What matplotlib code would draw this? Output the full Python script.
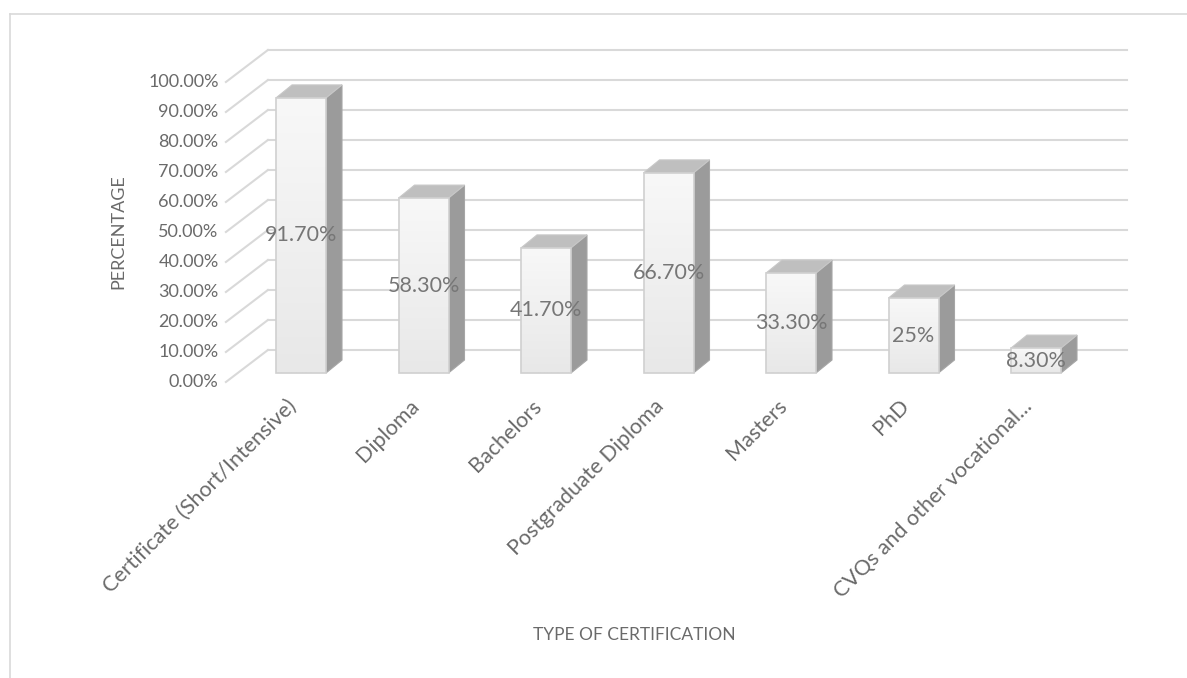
import matplotlib.pyplot as plt
from matplotlib.patches import Polygon, Rectangle
from matplotlib.colors import LinearSegmentedColormap
import numpy as np

plt.rcParams['font.family'] = ['Lato', 'DejaVu Sans']

categories = ['Certificate (Short/Intensive)', 'Diploma', 'Bachelors',
              'Postgraduate Diploma', 'Masters', 'PhD', 'CVQs and other vocational...']
values = [91.7, 58.3, 41.7, 66.7, 33.3, 25.0, 8.3]
value_labels = ['91.70%', '58.30%', '41.70%', '66.70%', '33.30%', '25%', '8.30%']
y_ticks = [0, 10, 20, 30, 40, 50, 60, 70, 80, 90, 100]
y_tick_labels = ['%.2f%%' % t for t in y_ticks]

# pixel scale of the bar plane: 122.5 px per category, 3 px per percent
W, H = 1187, 678
x0px, y0px, sx, sy = 301, 373, 122.5, 3.0

fig = plt.figure(figsize=(W / 100, H / 100), dpi=100)
ax = fig.add_axes([0, 0, 1, 1])
ax.axis('off')

grid_c = '#d9d9d9'
text_c = '#6a6a6a'

# depth offsets (data units) relative to the bar plane
front = (-12 / sx, -9 / sy)
back = (30 / sx, 23 / sy)
bar_d = (16 / sx, 13 / sy)
x_left, x_right = -0.515, 6.5

# walls: slanted left lines and back horizontal lines
for t in y_ticks:
    ax.plot([x_left + front[0], x_left + back[0]], [t + front[1], t + back[1]],
            color=grid_c, lw=1.5, zorder=1)
    ax.plot([x_left + back[0], x_right + back[0]], [t + back[1], t + back[1]],
            color=grid_c, lw=1.5, zorder=1)

# y tick labels on the front edge
for t, lab in zip(y_ticks, y_tick_labels):
    ax.text(x_left + front[0] - 0.06, t + front[1], lab, ha='right', va='center',
            fontsize=13, color=text_c)

# bars
w = 50 / sx
grad = np.linspace(0, 1, 100).reshape(-1, 1)
cmap = LinearSegmentedColormap.from_list('g', ['#f8f8f8', '#e8e8e8'])
for i, v in enumerate(values):
    l, r = i - w / 2, i + w / 2
    side = Polygon([(r, 0), (r + bar_d[0], bar_d[1]), (r + bar_d[0], v + bar_d[1]), (r, v)],
                   closed=True, facecolor='#9b9b9b', edgecolor='#a6a6a6', lw=0.8, zorder=3)
    top = Polygon([(l, v), (r, v), (r + bar_d[0], v + bar_d[1]), (l + bar_d[0], v + bar_d[1])],
                  closed=True, facecolor='#bfbfbf', edgecolor='#c8c8c8', lw=0.8, zorder=3)
    ax.add_patch(side)
    ax.add_patch(top)
    face = Rectangle((l, 0), w, v, facecolor='none', edgecolor='#d0d0d0', lw=1.2, zorder=5)
    ax.add_patch(face)
    im = ax.imshow(grad, cmap=cmap, extent=(l, r, 0, v), origin='upper',
                   aspect='auto', zorder=4)
    im.set_clip_path(face)
    ax.text(i, v / 2, value_labels[i], ha='center', va='center', fontsize=15.5,
            color='#767676', zorder=6)

# x tick labels
for i, c in enumerate(categories):
    ax.text(i - 0.06, -10, c, rotation=45, rotation_mode='anchor', ha='right', va='center',
            fontsize=15.5, color=text_c)

ax.set_xlim(-x0px / sx, (W - x0px) / sx)
ax.set_ylim((y0px - H) / sy, y0px / sy)

# axis titles
fig.text(118 / W, 1 - 232 / H, 'PERCENTAGE', rotation=90, ha='center', va='center',
         fontsize=13, color=text_c)
fig.text(634 / W, 1 - 635 / H, 'TYPE OF CERTIFICATION', ha='center', va='center',
         fontsize=12.5, color=text_c)

# chart border (top and left visible)
fig.add_artist(plt.Line2D([10 / W, 10 / W], [0, 1 - 14 / H], color=grid_c, lw=1.2))
fig.add_artist(plt.Line2D([10 / W, 1], [1 - 14 / H, 1 - 14 / H], color=grid_c, lw=1.2))

fig.savefig('out.png', dpi=100)
